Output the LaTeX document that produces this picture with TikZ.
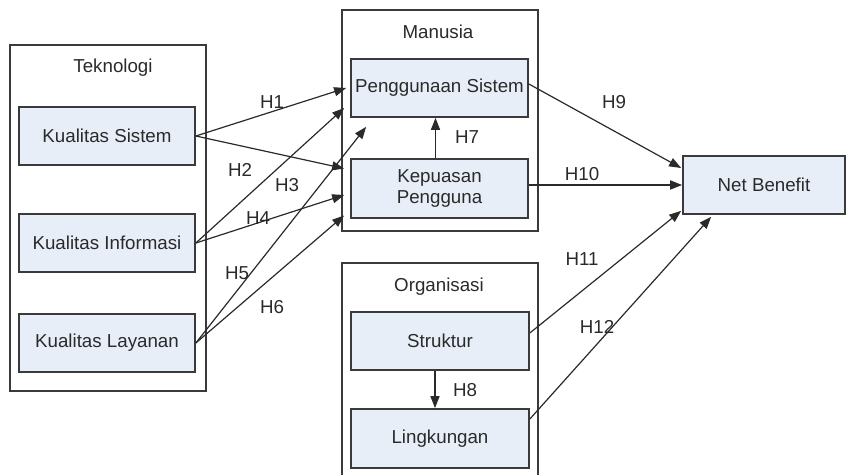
\documentclass[tikz,border=0pt]{standalone}
\usepackage{fontspec}
\setmainfont{Liberation Sans}
\usetikzlibrary{calc,arrows.meta}
\definecolor{boxfill}{HTML}{E8EEF8}
\definecolor{edge}{HTML}{3A3A3A}
\definecolor{ink}{HTML}{2A2A2A}
\begin{document}
\begin{tikzpicture}[x=1bp,y=-1bp,
  every node/.style={font=\fontsize{18.8}{21}\selectfont, text=ink},
  inbox/.style={draw=edge, line width=1.7bp, fill=boxfill, minimum height=58bp, inner sep=0pt, align=center},
  group/.style={draw=edge, line width=1.3bp},
  conn/.style={draw=ink, line width=1.2bp, -{Triangle[length=12bp,width=9bp]}},
  lbl/.style={inner sep=0pt}]
\useasboundingbox (0,0) rectangle (850,475);
% containers
\draw[group] (10,45) rectangle (206,391);
\node[lbl] (tteknologi) at (113,68) {Teknologi};
\draw[group] (342,10) rectangle (538,231);
\node[lbl] (tmanusia) at (438,32) {Manusia};
\draw[group] (342,477) -- (342,263) -- (538,263) -- (538,477);
\node[lbl] (torganisasi) at (439,287) {Organisasi};
% boxes
\node[inbox, minimum width=176bp] (ks) at (107,136) {Kualitas Sistem};
\node[inbox, minimum width=176bp] (ki) at (107,243) {Kualitas Informasi};
\node[inbox, minimum width=176bp] (kl) at (107,343) {Kualitas Layanan};
\node[inbox, minimum width=177bp] (ps) at (439.5,88) {Penggunaan Sistem};
\node[inbox, minimum width=177bp, minimum height=59bp] (kp) at (439.5,188.5) {Kepuasan\\Pengguna};
\node[inbox, minimum width=178bp] (st) at (440,341) {Struktur};
\node[inbox, minimum width=178bp, minimum height=59bp] (lk) at (440,438.5) {Lingkungan};
\node[inbox, minimum width=162bp] (nb) at (764,185) {Net Benefit};
% left connectors
\draw[conn] (ks.east) -- ($(ps.west)+(-4,0)$);
\draw[conn] (ks.east) -- ($(kp.west)+(-6,-20)$);
\draw[conn] (ki.east) -- ($(ps.west)+(-6,20)$);
\draw[conn] (ki.east) -- ($(kp.west)+(-6,6.5)$);
\draw[conn] (kl.east) -- ($(ps.south west)+(16,9)$);
\draw[conn] (kl.east) -- ($(kp.west)+(-6,27)$);
% inner connectors
\draw[conn, line width=1.4bp] ($(kp.north)+(-4,0)$) -- ($(ps.south)+(-4,0)$);
\draw[conn, line width=1.4bp] ($(st.south)+(-5,0)$) -- ($(lk.north)+(-5,0)$);
% right connectors
\draw[conn] ($(ps.east)+(0,-4)$) -- ($(nb.west)+(-1,-17)$);
\draw[conn, line width=1.7bp] (kp.east|-nb.west) -- (nb.west);
\draw[conn] ($(st.east)+(0,-8)$) -- ($(nb.south west)+(-1,-4)$);
\draw[conn] ($(lk.east)+(0,-19.5)$) -- ($(nb.south west)+(29,2)$);
% labels
\node[lbl] (h1) at (272,102) {H1};
\node[lbl] (h2) at (240,170) {H2};
\node[lbl] (h3) at (287,185) {H3};
\node[lbl] (h4) at (258,218) {H4};
\node[lbl] (h5) at (237,273) {H5};
\node[lbl] (h6) at (272,307) {H6};
\node[lbl] (h7) at (467,137) {H7};
\node[lbl] (h8) at (465,390) {H8};
\node[lbl] (h9) at (614,102) {H9};
\node[lbl] (h10) at (582,174) {H10};
\node[lbl] (h11) at (582,259) {H11};
\node[lbl] (h12) at (597,327) {H12};
\end{tikzpicture}
\end{document}
